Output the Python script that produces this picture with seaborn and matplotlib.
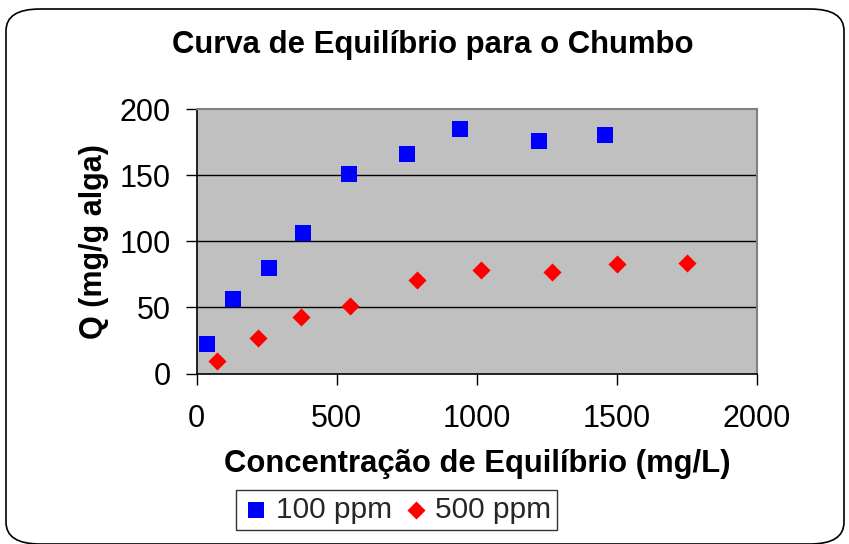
import matplotlib
matplotlib.use("Agg")
import matplotlib.pyplot as plt
import seaborn as sns
import pandas as pd
from matplotlib.patches import FancyBboxPatch

# Data
x_100 = [36, 131, 259, 380, 544, 750, 941, 1221, 1458]
q_100 = [22, 56, 80, 106, 151, 166, 185, 176, 180]
x_500 = [71, 218, 371, 547, 788, 1014, 1269, 1502, 1750]
q_500 = [9.5, 27, 43, 51, 70.5, 78.5, 77, 82.5, 83.5]
series_names = ["100 ppm", "500 ppm"]
x_ticks = [0, 500, 1000, 1500, 2000]
y_ticks = [0, 50, 100, 150, 200]

df = pd.DataFrame({
    "x": x_100 + x_500,
    "q": q_100 + q_500,
    "serie": [series_names[0]] * len(x_100) + [series_names[1]] * len(x_500),
})

sns.set_theme(style="white")
plt.rcParams["font.family"] = ["Liberation Sans", "DejaVu Sans"]

fig = plt.figure(figsize=(8.49, 5.44), dpi=100)
ax = fig.add_axes([0.2317, 0.3134, 0.6599, 0.4862])

border = FancyBboxPatch((6 / 849, 0.0), 838 / 849, 1 - 9 / 544,
                        boxstyle="round,pad=0,rounding_size=0.04",
                        transform=fig.transFigure, facecolor="white",
                        edgecolor="black", linewidth=1.2, zorder=-10)
fig.patches.append(border)

ax.set_facecolor("#C0C0C0")
for y in y_ticks[1:-1]:
    ax.axhline(y, color="black", linewidth=1.0, zorder=1)

sns.scatterplot(data=df[df.serie == series_names[0]], x="x", y="q", ax=ax,
                marker="s", s=118, color="#0000FF", edgecolor="#0000FF",
                linewidth=0, zorder=3, label=series_names[0])
sns.scatterplot(data=df[df.serie == series_names[1]], x="x", y="q", ax=ax,
                marker="D", s=85, color="#FF0000", edgecolor="#FF0000",
                linewidth=0, zorder=3, label=series_names[1])

ax.set_xlim(0, 2000)
ax.set_ylim(0, 200)
ax.set_xticks(x_ticks)
ax.set_yticks(y_ticks)
ax.tick_params(axis="both", labelsize=22, length=8, width=1, color="black",
               direction="out", labelcolor="black")
ax.tick_params(axis="x", bottom=True, pad=14)
ax.tick_params(axis="y", left=True, pad=10.5)
for side in ["top", "right"]:
    ax.spines[side].set_color("#808080")
    ax.spines[side].set_linewidth(1.5)
for side in ["left", "bottom"]:
    ax.spines[side].set_color("black")
    ax.spines[side].set_linewidth(1.2)

ax.set_xlabel("Concentração de Equilíbrio (mg/L)", fontsize=22.3, fontweight="bold",
              labelpad=11, color="black")
ax.set_ylabel("Q (mg/g alga)", fontsize=22, fontweight="bold", labelpad=8,
              color="black")
fig.text(0.510, 0.917, "Curva de Equilíbrio para o Chumbo", fontsize=22.4,
         fontweight="bold", ha="center", va="center", color="black")

leg = ax.legend(loc="center", bbox_to_anchor=(396.5 / 849, 1 - 510 / 544),
                bbox_transform=fig.transFigure, ncol=2, fontsize=21.5,
                frameon=True, fancybox=False, edgecolor="black",
                handletextpad=0.15, columnspacing=0.3, borderpad=0.2,
                handlelength=1.0, borderaxespad=0)
leg.get_frame().set_linewidth(1.0)

fig.savefig("out.png", dpi=100)
